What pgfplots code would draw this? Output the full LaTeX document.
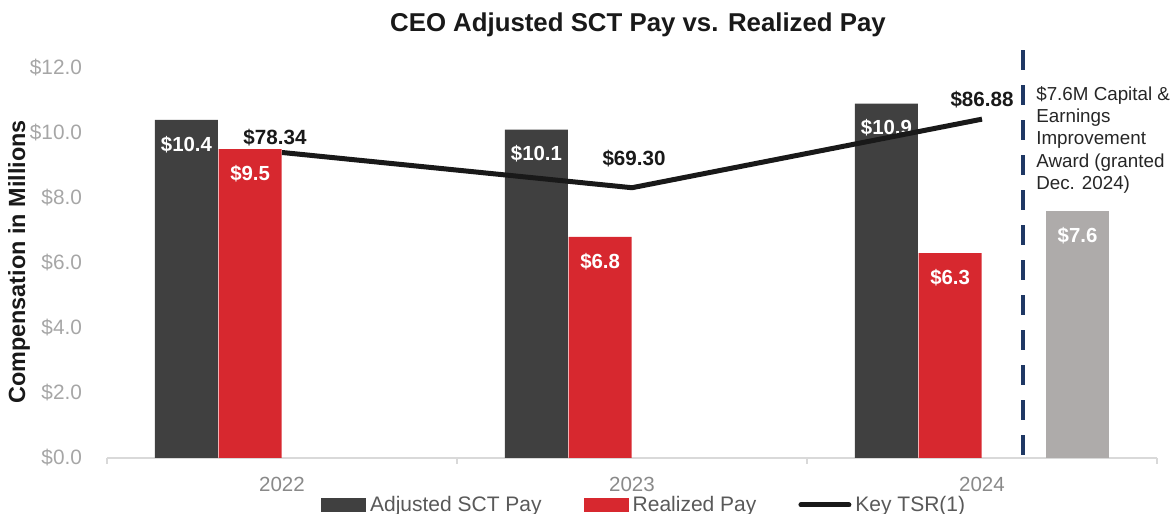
\documentclass[border=0pt]{standalone}
\usepackage{fontspec}
\setmainfont{Liberation Sans}
\usepackage{pgfplots}
\pgfplotsset{compat=1.18}
\definecolor{darkbar}{HTML}{404040}
\definecolor{redbar}{HTML}{D7282F}
\definecolor{graybar}{HTML}{AEABAA}
\definecolor{navy}{HTML}{1F3864}
\definecolor{yticktext}{HTML}{A6A6A6}
\definecolor{xticktext}{HTML}{898989}
\definecolor{axisgray}{HTML}{D9D9D9}
\definecolor{legtext}{HTML}{595959}
\definecolor{annot}{HTML}{262626}
\begin{document}
\begin{tikzpicture}
\begin{axis}[
  at={(0,0)}, anchor=south west,
  scale only axis, width=525pt, height=195pt,
  xmin=-0.5, xmax=2.5, ymin=0, ymax=12,
  clip=false,
  axis x line*=bottom, axis y line*=left,
  x axis line style={draw=axisgray, line width=1pt},
  y axis line style={draw=none},
  ytick={0,2,...,12},
  yticklabels={\$0.0,\$2.0,\$4.0,\$6.0,\$8.0,\$10.0,\$12.0},
  ytick style={draw=none},
  yticklabel style={font=\fontsize{10.4pt}{12pt}\selectfont, text=yticktext, anchor=east, xshift=-6pt},
  xtick={-0.5,0.5,1.5,2.5}, xticklabels={},
  xtick style={draw=axisgray, line width=1pt},
  tick align=outside, major tick length=3pt,
  extra x ticks={0,1,2}, extra x tick labels={2022,2023,2024},
  extra x tick style={major tick length=0pt, tick style={draw=none},
    xticklabel style={font=\fontsize{10.25pt}{12pt}\selectfont, text=xticktext, yshift=-6pt}},
  title={CEO Adjusted SCT Pay vs. Realized Pay},
  title style={at={(rel axis cs:0.5057,1.064)}, anchor=base, font=\bfseries\fontsize{12.9pt}{15pt}\selectfont, text=black!90},
  ylabel={Compensation in Millions},
  ylabel style={at={(rel axis cs:-0.0838,0.5026)}, anchor=center, font=\bfseries\fontsize{11.7pt}{14pt}\selectfont, text=black!90},
  legend style={at={(rel axis cs:0.5125,-0.1205)}, anchor=center, draw=none, fill=none,
    font=\fontsize{10.5pt}{12pt}\selectfont, text=legtext, inner sep=0pt,
    /tikz/every even column/.append style={column sep=19pt}},
  legend columns=3, legend cell align=left,
]
\addplot[ybar, bar width=31.5pt, bar shift=0pt, fill=darkbar, draw=none,
  point meta=explicit symbolic, nodes near coords,
  every node near coord/.append style={anchor=north, yshift=-4.5pt, text=white, font=\bfseries\fontsize{10.2pt}{12pt}\selectfont},
  legend image code/.code={\fill[darkbar] (0pt,-3.5pt) rectangle (22.5pt,3.5pt);}]
  coordinates {(-0.273,10.4)[\$10.4] (0.727,10.1)[\$10.1] (1.727,10.9)[\$10.9]};
\addlegendentry{Adjusted SCT Pay}
\addplot[ybar, bar width=31.5pt, bar shift=0pt, fill=redbar, draw=none,
  point meta=explicit symbolic, nodes near coords,
  every node near coord/.append style={anchor=north, yshift=-4.5pt, text=white, font=\bfseries\fontsize{10.2pt}{12pt}\selectfont},
  legend image code/.code={\fill[redbar] (0pt,-3.5pt) rectangle (22.5pt,3.5pt);}]
  coordinates {(-0.091,9.5)[\$9.5] (0.909,6.8)[\$6.8] (1.909,6.3)[\$6.3]};
\addlegendentry{Realized Pay}
\addlegendimage{legend image code/.code={\draw[black!90, line width=2.5pt, line cap=round] (0pt,0pt) -- (24pt,0pt);}}
\addlegendentry{Key TSR(1)}
\addplot[ybar, bar width=31.5pt, bar shift=0pt, fill=graybar, draw=none, forget plot,
  point meta=explicit symbolic, nodes near coords,
  every node near coord/.append style={anchor=north, yshift=-4.5pt, text=white, font=\bfseries\fontsize{10.2pt}{12pt}\selectfont}]
  coordinates {(2.273,7.6)[\$7.6]};
\addplot[navy, line width=2.2pt, dash pattern=on 10pt off 7.5pt, forget plot]
  coordinates {(2.117,12.55) (2.117,0)};
\node[anchor=north west, inner sep=0pt, align=left, text=annot,
  font=\fontsize{9.4pt}{11.2pt}\selectfont] at (axis cs:2.154,11.45)
  {\$7.6M Capital \&\\Earnings\\Improvement\\Award (granted\\Dec. 2024)};
\end{axis}
\begin{axis}[
  at={(0,0)}, anchor=south west,
  scale only axis, width=525pt, height=195pt,
  xmin=-0.5, xmax=2.5, ymin=0, ymax=100,
  hide axis, clip=false,
]
\addplot[black!90, line width=2.5pt, line join=round, mark=none,
  point meta=y, nodes near coords={\$\pgfmathprintnumber[fixed, fixed zerofill, precision=2, assume math mode=true]{\pgfplotspointmeta}},
  visualization depends on={value \thisrow{dx} \as \dx},
  visualization depends on={value \thisrow{dy} \as \dy},
  every node near coord/.append style={anchor=center, xshift=\dx, yshift=\dy, text=black!90, font=\bfseries\fontsize{10.3pt}{12pt}\selectfont}]
  table {
x y dx dy
0 78.34 -3.5pt 7.5pt
1 69.30 1pt 14.5pt
2 86.88 0pt 10pt
};
\end{axis}
\pgfresetboundingbox
\path[use as bounding box] (-53.5pt,-28pt) rectangle (533.5pt,229pt);
\end{tikzpicture}
\end{document}
